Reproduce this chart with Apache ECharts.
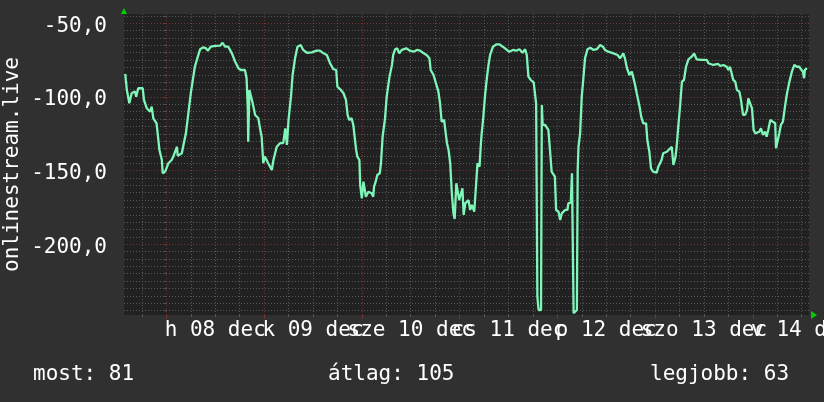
<!DOCTYPE html>
<html>
<head>
<meta charset="utf-8">
<script src="https://cdn.jsdelivr.net/npm/echarts@6/dist/echarts.min.js"></script>
<style>
html,body{margin:0;padding:0;background:#303030;}
#c{width:824px;height:402px;}
</style>
</head>
<body>
<div id="c"></div>
<script>
// Hours relative to 08 Dec 00:00
const hours = [
-10.1,-9.7,-9.1,-8.5,-7.7,-7.4,-6.9,-5.8,-5.5,-4.8,-4.0,-3.6,-3.2,-2.4,-2.0,-1.7,-1.1,-0.9,-0.3,0.5,
1.3,1.7,2.6,2.8,3.2,3.8,4.2,4.8,5.4,6.0,6.5,7.0,7.6,8.3,9.1,9.7,10.2,10.9,12.0,13.2,
13.8,14.4,15.2,16.1,16.9,17.7,18.3,19.3,19.7,20.0,20.1,20.4,20.8,21.2,21.8,22.6,23.0,23.4,23.6,23.8,
24.2,25.0,25.9,26.3,27.1,27.9,28.7,29.2,29.6,30.0,30.6,31.0,31.6,32.2,33.0,33.6,34.5,35.7,36.9,37.7,
38.6,39.4,40.2,41.0,41.7,42.0,42.7,43.5,44.1,44.5,44.9,45.5,45.9,46.3,46.6,46.9,47.4,47.6,48.0,48.4,
48.8,49.0,49.6,50.4,50.8,51.0,51.4,51.8,52.4,52.7,52.9,53.1,53.7,54.1,54.8,55.4,55.7,56.2,56.7,57.2,
57.8,58.9,59.8,60.7,61.5,62.3,63.0,63.9,64.6,64.9,65.6,66.2,66.8,67.2,67.6,68.2,68.4,68.9,69.3,69.7,
70.1,70.5,70.8,71.2,71.5,71.9,72.3,72.7,73.0,73.4,74.2,74.6,75.0,75.6,76.1,76.4,76.9,77.2,77.4,77.8,
78.3,78.7,79.1,79.5,80.2,81.0,81.8,82.6,83.4,84.2,85.1,85.9,86.7,87.5,88.1,88.5,88.9,89.5,90.2,90.6,
90.8,91.1,91.4,92.0,92.2,92.4,93.0,93.8,94.2,94.6,95.4,95.7,96.3,96.7,97.1,97.9,98.5,98.7,99.3,99.6,
99.8,100.0,100.4,100.8,101.0,101.2,101.6,102.0,102.4,102.8,103.4,104.1,104.9,105.7,106.5,107.2,107.7,108.5,109.8,110.8,
111.4,111.8,112.2,112.6,113.1,113.7,114.3,114.7,115.1,115.5,116.2,116.6,117.1,117.8,118.1,118.6,119.0,119.5,120.4,120.8,
121.6,122.0,122.9,123.3,124.1,124.5,125.0,125.3,125.7,126.2,126.6,127.1,127.6,128.2,129.0,129.6,130.2,131.5,132.7,133.1,
134.3,135.5,136.0,136.8,137.6,138.0,138.4,138.8,139.2,139.7,140.1,140.7,141.1,141.6,142.1,142.6,142.9,143.3,143.8,144.2,
144.6,145.0,145.6,146.0,146.5,147.0,147.4,147.8,148.3,148.9,149.5,149.7,150.0,150.5,150.9,151.4,151.9,152.4,153.0,153.6,
154.2,154.8,155.4,155.8,156.3,156.6,156.8,157.3
];
const values = [
-84.4,-95.3,-104.3,-97.3,-96.4,-99.8,-94.1,-94.1,-102,-107.7,-110,-106.6,-114.5,-117.9,-119,-136,-142.8,-151.8,-150.7,-145,
-142.8,-140.5,-133.8,-140,-139.4,-138.2,-132.6,-124.7,-111.1,-97.5,-88.5,-79.5,-73.8,-67.6,-66.3,-67,-68.6,-65.9,-65.4,-65.2,
-63.2,-65.9,-65.9,-70.4,-76.1,-80.5,-81.7,-81.7,-87.3,-108.8,-130.4,-95.3,-96.4,-104.3,-112.2,-114.5,-121.3,-127,-136,-145,
-140.5,-145,-149.6,-142.8,-133.8,-131.4,-131.4,-121.3,-132.6,-115.6,-99.8,-85.1,-73.8,-65.9,-64.7,-68.1,-70,-69.7,-68.6,-68.6,
-70.4,-71.5,-77.1,-81.2,-81.7,-93,-94.8,-97.5,-102,-112.2,-115.6,-114.5,-119,-120.2,-136,-140.5,-142.8,-159.8,-168.8,-157.5,
-157.5,-167.7,-164.3,-165.4,-167.7,-160.9,-157.5,-153,-151.8,-145,-136,-127,-114.5,-99.8,-86.2,-78.3,-71.5,-67.6,-67,-70.4,
-68.1,-67,-68.6,-69.3,-68.1,-68.6,-70,-71.5,-73.8,-81.7,-85.1,-90.7,-96.4,-104.3,-116.8,-115.6,-120.2,-131.4,-136,-145,
-165.4,-179,-182.8,-158.6,-158.6,-170,-170,-162,-180.1,-172.2,-170,-176.7,-173.3,-177.9,-157.5,-145,-147.3,-133,-125.8,-114.5,
-97.5,-87.3,-78.3,-71.5,-65.9,-64.3,-64.3,-65.9,-67.6,-69.3,-68.1,-68.6,-67.6,-70,-67.6,-71.5,-86.2,-88.5,-90.3,-99.8,
-104.3,-235.6,-244.6,-244.6,-105.5,-119,-119,-122.4,-136,-150.7,-154.1,-176.7,-177.9,-183.5,-179,-176.7,-176.7,-172.2,-171.8,-151.8,
-151.8,-246.8,-246.8,-244.6,-149.6,-133.8,-124.7,-99.8,-87.3,-73.8,-67.6,-66.6,-68.1,-67.6,-64.7,-65.9,-68.1,-69.3,-70.4,-71.5,
-73.8,-74.9,-70.4,-73.8,-80.5,-85.1,-82.8,-87.3,-91.9,-97.5,-106.6,-113.4,-117.9,-117.9,-129.2,-137.2,-148.4,-150.7,-151.4,-147.3,
-142.8,-138.2,-137.2,-136,-133.8,-146.2,-141,-133.8,-120.2,-104.3,-89.6,-88.5,-79.5,-74.5,-72.7,-70.4,-74.5,-74.9,-74.9,-77.1,
-78.3,-77.6,-79,-78.3,-79.5,-81.7,-79.5,-79,-88.5,-89.6,-95.3,-96.4,-102,-112.2,-112.2,-108.8,-100.9,-100.9,-107.7,-122.4,
-124.7,-125.8,-123.6,-121.3,-125.8,-123.6,-127,-122.4,-115.6,-116.8,-117.9,-134.8,-133.8,-124.7,-119,-116.8,-106.6,-97.5,-89.6,-82.8,
-78.3,-79.5,-79.5,-81.2,-82.8,-87.3,-81.7,-80.5
];
const dayLabels = ['h 08 dec','k 09 dec','sze 10 dec','cs 11 dec','p 12 dec','szo 13 dec','v 14 dec'];
const yLabelValues = [-50,-100,-150,-200];
const yAxisTitle = 'onlinestream.live';
const legendNames = ['most','átlag','legjobb'];
const legendValues = [81,105,63];

const X_MIN = -10.4, X_MAX = 157.8;
const Y_MIN = -248, Y_MAX = -43.7;

const minorX = [], majorX = [], labelEven = [], labelOdd = [];
for (let h = -6; h <= X_MAX; h += 6) { if (h % 24 !== 0) minorX.push(h); }
for (let i = 0; i < dayLabels.length; i++) {
  majorX.push(i * 24);
  (i % 2 === 0 ? labelEven : labelOdd).push(i * 24 + 12);
}
const minorY = [];
for (let v = -245; v <= Y_MAX; v += 5) { if (v % 50 !== 0) minorY.push(v); }

const FONT = 'DejaVu Sans Mono';
const minorColor = '#575757';
const majorColor = '#753434';
const dayFormatter = v => dayLabels[Math.round((v - 12) / 24)] || '';
const xLabelStyle = {show: true, margin: 5, color: '#ffffff', fontFamily: FONT, fontSize: 21,
  hideOverlap: false, showMinLabel: true, showMaxLabel: true, formatter: dayFormatter};

const chart = echarts.init(document.getElementById('c'), null, {renderer: 'canvas'});
chart.setOption({
  backgroundColor: '#303030',
  animation: false,
  grid: {left: 124, right: 15, top: 14, bottom: 87, show: true, backgroundColor: '#212121', borderWidth: 0, containLabel: false, outerBoundsMode: 'none'},
  xAxis: [
    {type: 'value', min: X_MIN, max: X_MAX, position: 'bottom',
     axisLine: {show: false},
     axisTick: {show: true, length: 2, customValues: minorX, lineStyle: {color: minorColor}},
     axisLabel: Object.assign({customValues: labelOdd}, xLabelStyle),
     splitLine: {show: true, lineStyle: {color: minorColor, width: 1, type: [1, 2]}}},
    {type: 'value', min: X_MIN, max: X_MAX, position: 'bottom',
     axisLine: {show: false},
     axisTick: {show: true, length: 4, customValues: majorX, lineStyle: {color: majorColor}},
     axisLabel: Object.assign({customValues: labelEven}, xLabelStyle),
     splitLine: {show: true, lineStyle: {color: majorColor, width: 1, type: [1, 2]}}}
  ],
  yAxis: [
    {type: 'value', min: Y_MIN, max: Y_MAX,
     name: yAxisTitle, nameLocation: 'middle', nameGap: 101, nameRotate: 90,
     nameTextStyle: {color: '#ffffff', fontFamily: FONT, fontSize: 21},
     axisLine: {show: false},
     axisTick: {show: true, length: 2, customValues: minorY, lineStyle: {color: minorColor}},
     axisLabel: {show: false},
     splitLine: {show: true, lineStyle: {color: minorColor, width: 1, type: [1, 2]}}},
    {type: 'value', min: Y_MIN, max: Y_MAX, position: 'left',
     axisLine: {show: false},
     axisTick: {show: true, length: 3, customValues: yLabelValues, lineStyle: {color: majorColor}},
     axisLabel: {show: true, customValues: yLabelValues, margin: 17, color: '#ffffff', fontFamily: FONT, fontSize: 21,
       showMinLabel: true, showMaxLabel: true, verticalAlign: 'top', lineHeight: 6,
       formatter: v => v.toFixed(1).replace('.', ',')},
     splitLine: {show: true, lineStyle: {color: majorColor, width: 1, type: [1, 2]}}}
  ],
  series: [{
    type: 'line', xAxisIndex: 0, yAxisIndex: 0,
    data: hours.map((h, i) => [h, values[i]]),
    showSymbol: false, symbol: 'none',
    lineStyle: {color: '#7ff5b8', width: 2.3},
    z: 5
  }],
  graphic: [
    {type: 'polygon', shape: {points: [[121, 14], [127, 14], [124, 8]]}, style: {fill: '#00d000'}},
    {type: 'polygon', shape: {points: [[811, 311], [811, 319], [817, 315]]}, style: {fill: '#00d000'}},
    {type: 'text', left: 33, top: 364, style: {text: legendNames[0] + ': ' + legendValues[0], fill: '#ffffff', font: '21px "DejaVu Sans Mono"'}},
    {type: 'text', left: 328, top: 364, style: {text: legendNames[1] + ': ' + legendValues[1], fill: '#ffffff', font: '21px "DejaVu Sans Mono"'}},
    {type: 'text', left: 650, top: 364, style: {text: legendNames[2] + ': ' + legendValues[2], fill: '#ffffff', font: '21px "DejaVu Sans Mono"'}}
  ]
});
</script>
</body>
</html>
